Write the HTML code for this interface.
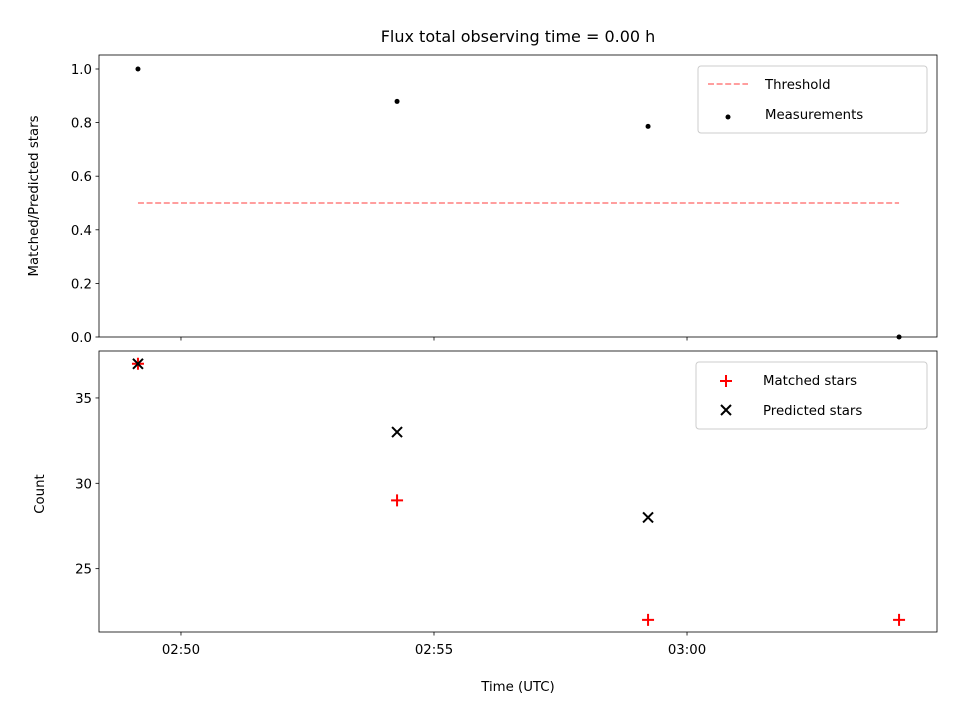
<!DOCTYPE html>
<html><head><meta charset="utf-8"><style>
body{margin:0;background:#fff;}
svg text{font-family:"DejaVu Sans","Liberation Sans",sans-serif;font-size:13.3px;fill:#000;}
</style></head><body>
<svg id="chart" width="960" height="720" xmlns="http://www.w3.org/2000/svg">
<text x="518" y="42" text-anchor="middle" style="font-size:16px">Flux total observing time = 0.00 h</text>
<g id="topPanel"></g>
<g id="botPanel"></g>
</svg>
<script>
// times in minutes after 02:00 UTC
const times = [49.15, 54.27, 59.23, 64.19];
const ratio = [1.0, 0.879, 0.786, 0.0];
const matched = [37, 29, 22, 22];
const predicted = [37, 33, 28];
const threshold = 0.5;
const xTicks = [50, 55, 60];
const xTickLabels = ["02:50", "02:55", "03:00"];
const topTicks = [0, 0.2, 0.4, 0.6, 0.8, 1.0];
const botTicks = [25, 30, 35];

const NS = "http://www.w3.org/2000/svg";
const L = 99, R = 937;
const x = t => L + (t - 48.38) / (64.94 - 48.38) * (R - L);
const yTop = v => 337 - v * 268;
const yBot = v => 632 - (v - 21.29) / (37.75 - 21.29) * (632 - 351);
function mk(parent, tag, attrs, txt) {
  const e = document.createElementNS(NS, tag);
  for (const k in attrs) e.setAttribute(k, attrs[k]);
  if (txt !== undefined) e.textContent = txt;
  parent.appendChild(e);
  return e;
}
const topG = document.getElementById('topPanel'), botG = document.getElementById('botPanel');

// top panel
let ln = mk(topG, 'line', {x1: x(times[0]), x2: x(times[3]), y1: yTop(threshold), y2: yTop(threshold), stroke: '#ff7f7f', 'stroke-width': 1.6, 'stroke-dasharray': '6,2.6'});


ratio.forEach((v, i) => {
  const c = mk(topG, 'circle', {cx: x(times[i]), cy: yTop(v), r: 2.5, fill: '#000'});
  
  
});
topTicks.forEach(v => {
  mk(topG, 'line', {x1: 95.5, x2: 99, y1: yTop(v), y2: yTop(v), stroke: '#000', 'stroke-width': 0.8});
  const t = mk(topG, 'text', {x: 92, y: yTop(v) + 5, 'text-anchor': 'end'}, v.toFixed(1));
  
  
});
xTicks.forEach(v => mk(topG, 'line', {x1: x(v), x2: x(v), y1: 337, y2: 340.5, stroke: '#000', 'stroke-width': 0.8}));
mk(topG, 'rect', {x: 99, y: 55, width: 838, height: 282, fill: 'none', stroke: '#000', 'stroke-width': 0.8});
let yt = mk(topG, 'text', {x: 38, y: 196, 'text-anchor': 'middle', transform: 'rotate(-90 38 196)'}, 'Matched/Predicted stars');


const lg1 = mk(topG, 'g', {});


mk(lg1, 'rect', {x: 698, y: 66, width: 229, height: 67, rx: 3, fill: '#fff', 'fill-opacity': 0.8, stroke: '#ccc', 'stroke-width': 1});
mk(lg1, 'line', {x1: 708, x2: 748, y1: 84, y2: 84, stroke: '#ff7f7f', 'stroke-width': 1.6, 'stroke-dasharray': '6,2.6'});
mk(lg1, 'text', {x: 765, y: 89}, 'Threshold');
mk(lg1, 'circle', {cx: 728, cy: 117, r: 2.5, fill: '#000'});
mk(lg1, 'text', {x: 765, y: 119}, 'Measurements');

// bottom panel
function plus(g, cx, cy) {
  return mk(g, 'path', {d: `M${cx-6},${cy}H${cx+6}M${cx},${cy-6}V${cy+6}`, stroke: '#f00', 'stroke-width': 2});
}
function cross(g, cx, cy) {
  return mk(g, 'path', {d: `M${cx-5},${cy-5}L${cx+5},${cy+5}M${cx-5},${cy+5}L${cx+5},${cy-5}`, stroke: '#000', 'stroke-width': 2});
}
matched.forEach((v, i) => {
  const p = plus(botG, x(times[i]), yBot(v));
  
  
});
predicted.forEach((v, i) => {
  const p = cross(botG, x(times[i]), yBot(v));
  
  
});
botTicks.forEach(v => {
  mk(botG, 'line', {x1: 95.5, x2: 99, y1: yBot(v), y2: yBot(v), stroke: '#000', 'stroke-width': 0.8});
  const t = mk(botG, 'text', {x: 92, y: yBot(v) + 5, 'text-anchor': 'end'}, String(v));
  
  
});
xTicks.forEach((v, i) => {
  mk(botG, 'line', {x1: x(v), x2: x(v), y1: 632, y2: 635.5, stroke: '#000', 'stroke-width': 0.8});
  const t = mk(botG, 'text', {x: x(v), y: 654, 'text-anchor': 'middle'}, xTickLabels[i]);
  
  
});
mk(botG, 'rect', {x: 99, y: 351, width: 838, height: 281, fill: 'none', stroke: '#000', 'stroke-width': 0.8});
let xt = mk(botG, 'text', {x: 518, y: 691, 'text-anchor': 'middle'}, 'Time (UTC)');


let yt2 = mk(botG, 'text', {x: 44, y: 494, 'text-anchor': 'middle', transform: 'rotate(-90 44 494)'}, 'Count');


const lg2 = mk(botG, 'g', {});


mk(lg2, 'rect', {x: 696, y: 362, width: 231, height: 67, rx: 3, fill: '#fff', 'fill-opacity': 0.8, stroke: '#ccc', 'stroke-width': 1});
plus(lg2, 726, 381);
mk(lg2, 'text', {x: 763, y: 385}, 'Matched stars');
cross(lg2, 726, 410);
mk(lg2, 'text', {x: 763, y: 415}, 'Predicted stars');
</script>
</body></html>
